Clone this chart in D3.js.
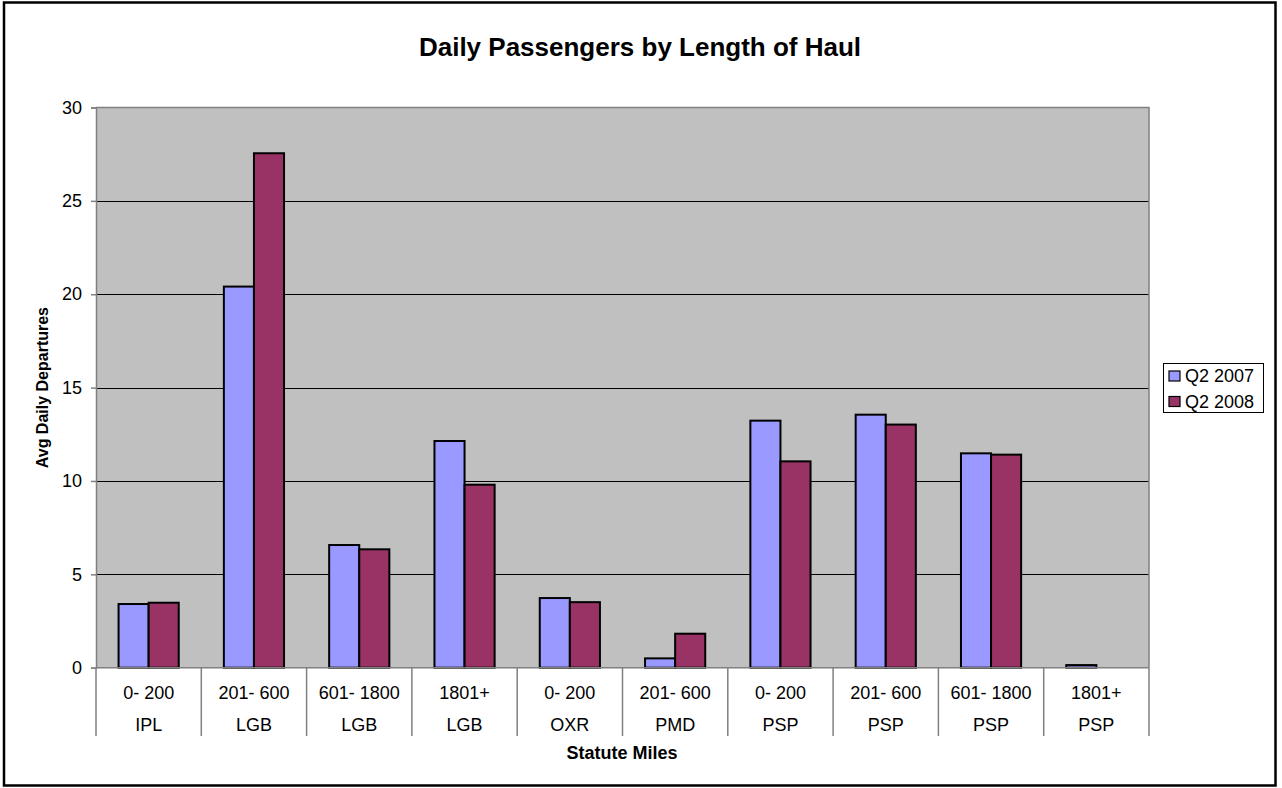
<!DOCTYPE html>
<html>
<head>
<meta charset="utf-8">
<script src="https://cdn.jsdelivr.net/npm/d3@7"></script>
<style>
  body { margin: 0; background: #fff; }
  svg { display: block; font-family: "Liberation Sans", Arial, sans-serif; }
</style>
</head>
<body>
<div id="chart"></div>
<script>
// data
var ranges = ["0- 200", "201- 600", "601- 1800", "1801+", "0- 200", "201- 600", "0- 200", "201- 600", "601- 1800", "1801+"];
var airports = ["IPL", "LGB", "LGB", "LGB", "OXR", "PMD", "PSP", "PSP", "PSP", "PSP"];
var seriesNames = ["Q2 2007", "Q2 2008"];
var q2007 = [3.41, 20.41, 6.57, 12.14, 3.73, 0.50, 13.23, 13.55, 11.48, 0.14];
var q2008 = [3.48, 27.55, 6.34, 9.80, 3.51, 1.82, 11.05, 13.02, 11.41, 0];
var yTicks = [0, 5, 10, 15, 20, 25, 30];

var colors = ["#9999FF", "#993366"];

var w = 1282, h = 788;
var plot = { left: 96, right: 1149, top: 107.5, bottom: 667.7 };

var svg = d3.select("#chart").append("svg")
    .attr("width", w)
    .attr("height", h);

// outer frame
svg.append("rect")
    .attr("x", 4).attr("y", 2.5)
    .attr("width", 1271.5).attr("height", 783)
    .attr("fill", "#fff")
    .attr("stroke", "#000")
    .attr("stroke-width", 2.5);

var cats = d3.range(ranges.length);

var xScale = d3.scaleBand()
    .domain(cats)
    .range([plot.left, plot.right])
    .paddingInner(0).paddingOuter(0);

// two bars + 150% gap
var inner = d3.scaleBand()
    .domain([0, 1])
    .range([0, xScale.bandwidth()])
    .paddingOuter(0.75).paddingInner(0);

var yScale = d3.scaleLinear()
    .domain([0, 30])
    .range([plot.bottom, plot.top]);

// plot background
svg.append("rect")
    .attr("x", plot.left).attr("y", plot.top)
    .attr("width", plot.right - plot.left)
    .attr("height", plot.bottom - plot.top)
    .attr("fill", "#C0C0C0");

// gridlines
svg.append("g").selectAll("line")
    .data(yTicks.filter(d => d > 0 && d < 30))
    .enter().append("line")
    .attr("x1", plot.left).attr("x2", plot.right)
    .attr("y1", d => Math.round(yScale(d)) + 0.5)
    .attr("y2", d => Math.round(yScale(d)) + 0.5)
    .attr("stroke", "#000").attr("stroke-width", 1);

// plot frame (top/right gray)
svg.append("path")
    .attr("d", `M${plot.left},${plot.top}H${plot.right}V${plot.bottom}`)
    .attr("fill", "none")
    .attr("stroke", "#808080")
    .attr("stroke-width", 1.5);

// bars
var table = cats.map(i => ({ i: i, vals: [q2007[i], q2008[i]] }));

var groups = svg.append("g").selectAll("g")
    .data(table)
    .enter().append("g")
    .attr("transform", d => `translate(${xScale(d.i)},0)`);

groups.selectAll("rect")
    .data(d => d.vals.map((v, s) => ({ v: v, s: s })))
    .enter().append("rect")
    .filter(d => d.v > 0)
    .attr("x", d => inner(d.s))
    .attr("y", d => yScale(d.v))
    .attr("width", inner.bandwidth())
    .attr("height", d => yScale(0) - yScale(d.v))
    .attr("fill", d => colors[d.s])
    .attr("stroke", "#000")
    .attr("stroke-width", 2);

// y axis
var yAxis = d3.axisLeft(yScale)
    .tickValues(yTicks)
    .tickSize(5)
    .tickPadding(9)
    .tickFormat(d3.format("d"));

var yAxisGroup = svg.append("g")
    .attr("transform", `translate(${plot.left},0)`)
    .call(yAxis);
yAxisGroup.select(".domain").attr("stroke", "#808080").attr("stroke-width", 1.5);
yAxisGroup.selectAll(".tick line").attr("stroke", "#808080").attr("stroke-width", 1.5);
yAxisGroup.selectAll("text")
    .attr("font-size", 18)
    .attr("font-family", "Liberation Sans, Arial, sans-serif")
    .attr("fill", "#000");

// x axis base line
svg.append("line")
    .attr("x1", plot.left).attr("x2", plot.right)
    .attr("y1", plot.bottom).attr("y2", plot.bottom)
    .attr("stroke", "#808080").attr("stroke-width", 1.5);

// category dividers spanning both label rows
var dividers = cats.map(i => xScale(i)).concat([plot.right]);
svg.append("g").selectAll("line")
    .data(dividers)
    .enter().append("line")
    .attr("x1", d => d).attr("x2", d => d)
    .attr("y1", plot.bottom).attr("y2", 736)
    .attr("stroke", "#808080").attr("stroke-width", 1.5);

// two rows of category labels
var labelRows = [ranges, airports];
labelRows.forEach((row, r) => {
    svg.append("g").selectAll("text")
        .data(row)
        .enter().append("text")
        .attr("x", (d, i) => xScale(i) + xScale.bandwidth() / 2)
        .attr("y", 699 + r * 32)
        .attr("text-anchor", "middle")
        .attr("font-size", 18)
        .text(d => d);
});

// title
svg.append("text")
    .attr("x", 640).attr("y", 56)
    .attr("text-anchor", "middle")
    .attr("font-size", 26)
    .attr("font-weight", "bold")
    .text("Daily Passengers by Length of Haul");

// axis titles
svg.append("text")
    .attr("transform", `translate(48,${(plot.top + plot.bottom) / 2}) rotate(-90)`)
    .attr("text-anchor", "middle")
    .attr("font-size", 16)
    .attr("font-weight", "bold")
    .text("Avg Daily Departures");

svg.append("text")
    .attr("x", 622).attr("y", 759)
    .attr("text-anchor", "middle")
    .attr("font-size", 18)
    .attr("font-weight", "bold")
    .text("Statute Miles");

// legend
var legend = svg.append("g").attr("transform", "translate(1163,363)");
legend.append("rect")
    .attr("x", 0.5).attr("y", 0.5)
    .attr("width", 100).attr("height", 49)
    .attr("fill", "#fff")
    .attr("stroke", "#000").attr("stroke-width", 1);

var items = legend.selectAll("g.item")
    .data(seriesNames)
    .enter().append("g")
    .attr("class", "item")
    .attr("transform", (d, i) => `translate(0,${i * 25.5})`);

items.append("rect")
    .attr("x", 6).attr("y", 8)
    .attr("width", 11).attr("height", 10)
    .attr("fill", (d, i) => colors[i])
    .attr("stroke", "#000").attr("stroke-width", 1.2);

items.append("text")
    .attr("x", 22).attr("y", 19)
    .attr("font-size", 18)
    .text(d => d);
</script>
</body>
</html>
